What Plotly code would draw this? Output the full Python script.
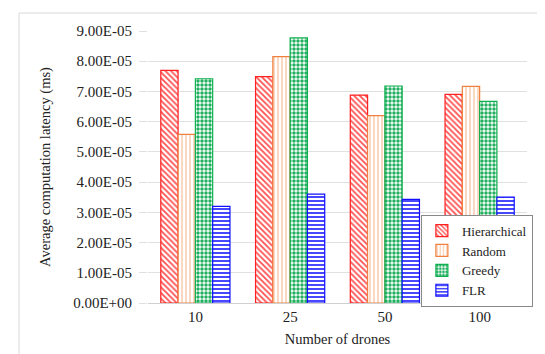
import plotly.graph_objects as go

categories = ["10", "25", "50", "100"]
hierarchical = [7.70e-05, 7.49e-05, 6.88e-05, 6.90e-05]
random_vals = [5.58e-05, 8.15e-05, 6.20e-05, 7.17e-05]
greedy = [7.42e-05, 8.77e-05, 7.18e-05, 6.67e-05]
flr = [3.20e-05, 3.60e-05, 3.43e-05, 3.50e-05]
ytick_vals = [i * 1e-05 for i in range(10)]
ytick_text = ["0.00E+00"] + ["%d.00E-05" % i for i in range(1, 10)]

FONT = "Liberation Serif, Times New Roman, DejaVu Serif, serif"

series = [
    ("Hierarchical", hierarchical, "#ff2020", "#ff5050", "\\", 4, 0.45),
    ("Random", random_vals, "#f08040", "#f8c8a8", "|", 4, 0.35),
    ("Greedy", greedy, "#10b050", "#20b060", ".", 4, 0.6),
    ("FLR", flr, "#1010ff", "#4848ff", "-", 4, 0.5),
]

fig = go.Figure()
for name, vals, line_c, fg, shape, size, sol in series:
    fig.add_trace(go.Bar(
        name=name, x=categories, y=vals,
        marker=dict(
            color="white",
            line=dict(color=line_c, width=1.2),
            pattern=dict(shape=shape, fgcolor=fg, bgcolor="white",
                         size=size, solidity=sol, fillmode="replace"),
        ),
    ))

fig.update_layout(
    width=545, height=354,
    margin=dict(l=140, r=26, t=23, b=59),
    paper_bgcolor="white", plot_bgcolor="white",
    font=dict(family=FONT, size=14, color="#222"),
    barmode="group", bargap=0.27, bargroupgap=0,
    showlegend=True,
    legend=dict(x=0.72, y=0.325, xanchor="left", yanchor="top",
                bordercolor="#888888", borderwidth=1, bgcolor="white",
                font=dict(family=FONT, size=13),
                tracegroupgap=0, itemwidth=30),
    xaxis=dict(
        title=dict(text="Number of drones", font=dict(family=FONT, size=14.5), standoff=9),
        showline=True, linecolor="#d0d0d0", linewidth=1,
        ticks="", tickfont=dict(family=FONT, size=15),
        showgrid=False, automargin=False,
    ),
    yaxis=dict(
        title=dict(text="Average computation latency (ms)", font=dict(family=FONT, size=14.5), standoff=19),
        range=[0, 9e-05],
        tickvals=ytick_vals, ticktext=ytick_text,
        tickfont=dict(family=FONT, size=15),
        showgrid=True, gridcolor="#e0e0e0", gridwidth=1,
        zeroline=False, showline=False,
        ticks="outside", ticklen=8, tickcolor="#e0e0e0",
        ticklabelstandoff=4, automargin=False,
    ),
)

fig.add_shape(type="rect", xref="paper", yref="paper",
              x0=(11 - 140) / 379, x1=(544 - 140) / 379,
              y0=(295 - 352.5) / 272, y1=(295 - 5) / 272,
              line=dict(color="#d8d8d8", width=1), fillcolor="rgba(0,0,0,0)", layer="below")

fig.write_html("out.html")
